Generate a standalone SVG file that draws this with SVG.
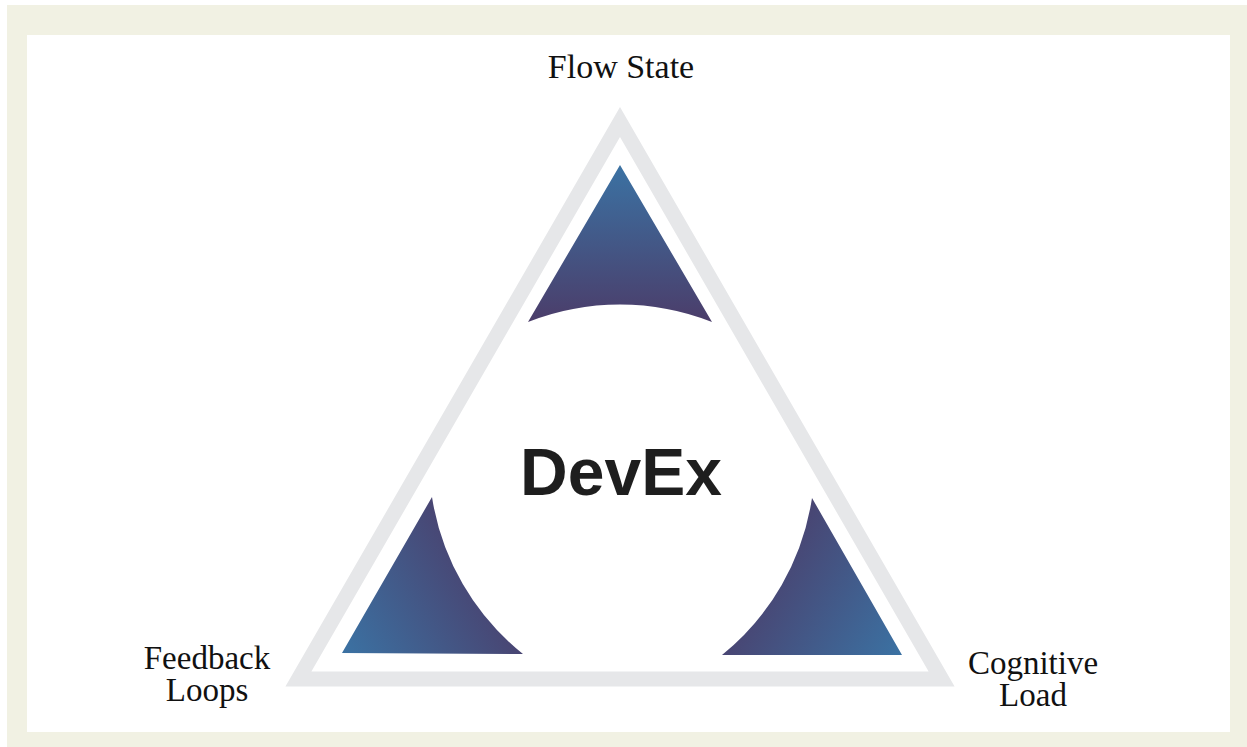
<svg xmlns="http://www.w3.org/2000/svg" width="1247" height="747" viewBox="0 0 1247 747">
  <style>
    .lbl { font-family: "Liberation Serif", "Times New Roman", serif; font-size: 34px; fill: #111111; text-anchor: middle; }
    .lbl2 { font-family: "Liberation Serif", "Times New Roman", serif; font-size: 33px; fill: #111111; text-anchor: middle; }
    .title { font-family: "Liberation Sans", Arial, sans-serif; font-weight: bold; font-size: 66px; fill: #1e1e1e; text-anchor: middle; }
  </style>
  <defs>
    <linearGradient id="gTop" gradientUnits="userSpaceOnUse" x1="620" y1="165" x2="620" y2="322">
      <stop offset="0" stop-color="#3b72a3"/>
      <stop offset="1" stop-color="#4b3d6a"/>
    </linearGradient>
    <linearGradient id="gLeft" gradientUnits="userSpaceOnUse" x1="342" y1="653" x2="500" y2="560">
      <stop offset="0" stop-color="#3b72a3"/>
      <stop offset="1" stop-color="#4b3d6a"/>
    </linearGradient>
    <linearGradient id="gRight" gradientUnits="userSpaceOnUse" x1="902" y1="655" x2="744" y2="560">
      <stop offset="0" stop-color="#3b72a3"/>
      <stop offset="1" stop-color="#4b3d6a"/>
    </linearGradient>
  </defs>
  <rect x="0" y="0" width="1247" height="747" fill="#ffffff"/>
  <rect x="7" y="5" width="1240" height="742" fill="#f1f1e3"/>
  <rect x="27" y="35" width="1203" height="697" fill="#ffffff"/>

  <g id="frame">
    <polygon points="620,122 941.6,679 298.4,679" fill="none" stroke="#e6e7e9" stroke-width="15" stroke-linejoin="miter" stroke-miterlimit="10"/>
  </g>

  <g id="flow-state">
    <path d="M620,165 L712,322 A250,250 0 0 0 528,322 Z" fill="url(#gTop)"/>
    <text class="lbl" x="621" y="78">Flow State</text>
  </g>

  <g id="feedback-loops">
    <path d="M342,653 L432,497 A250,250 0 0 0 523,654 Z" fill="url(#gLeft)"/>
    <text class="lbl2" x="207" y="669">Feedback</text>
    <text class="lbl2" x="207" y="701">Loops</text>
  </g>

  <g id="cognitive-load">
    <path d="M902,655 L812,498 A250,250 0 0 1 722,655 Z" fill="url(#gRight)"/>
    <text class="lbl2" x="1033" y="674">Cognitive</text>
    <text class="lbl2" x="1033" y="706">Load</text>
  </g>

  <g id="devex">
    <text class="title" x="621" y="495">DevEx</text>
  </g>

  <g id="connectors"></g>
</svg>
